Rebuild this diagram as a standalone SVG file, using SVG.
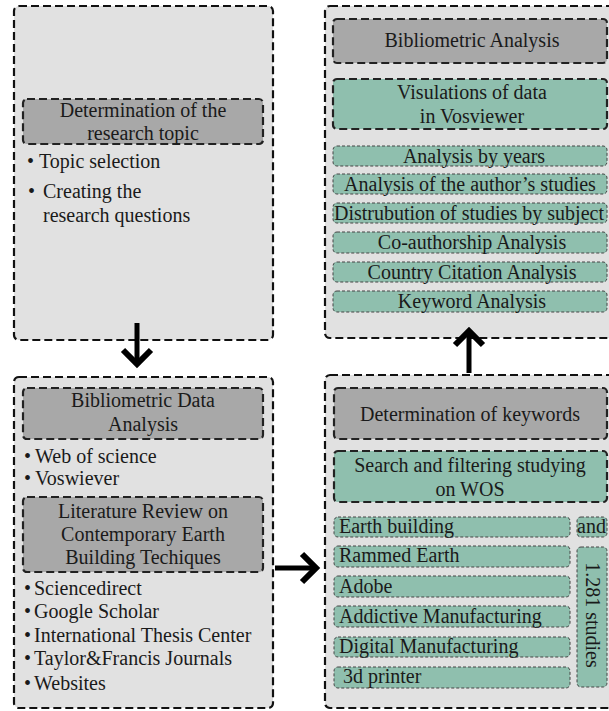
<svg xmlns="http://www.w3.org/2000/svg" width="609" height="711" viewBox="0 0 609 711">
<style>
.panel{fill:#e1e1e1;stroke:#111;stroke-width:2.2;stroke-dasharray:8 4}
.dark{fill:#a8a8a8;stroke:#222;stroke-width:2.2;stroke-dasharray:8 4}
.tealB{fill:#8fbfae;stroke:#222;stroke-width:2.2;stroke-dasharray:8 4}
.teal{fill:#8fbfae;stroke:#444;stroke-width:1;stroke-dasharray:3 2}
text{font-family:"Liberation Serif","Times New Roman",serif;font-size:20px;fill:#1a1a1a}
.c{text-anchor:middle}
.b{font-size:20px}
.arr{stroke:#000;stroke-width:5;fill:none}
.head{stroke:#000;stroke-width:6;fill:none;stroke-linejoin:miter}
</style>
<rect width="609" height="711" fill="#fff"/>

<g id="panel-topic">
<rect class="panel" x="14" y="6" width="259" height="334" rx="5"/>
<rect class="dark" x="23" y="99" width="240" height="45" rx="4"/>
<text class="c" x="143" y="117">Determination of the</text>
<text class="c" x="143" y="140">research topic</text>
<text class="b" x="27" y="168">•</text><text x="39" y="168">Topic selection</text>
<text class="b" x="28" y="198">•</text><text x="43" y="198">Creating the</text>
<text x="43" y="222">research questions</text>
</g>

<g id="panel-data">
<rect class="panel" x="14" y="377" width="259" height="331" rx="5"/>
<rect class="dark" x="23" y="388" width="240" height="51" rx="4"/>
<text class="c" x="143" y="407">Bibliometric Data</text>
<text class="c" x="143" y="431">Analysis</text>
<text class="b" x="24" y="463">•</text><text x="35" y="463">Web of science</text>
<text class="b" x="24" y="485">•</text><text x="35" y="485">Voswiever</text>
<rect class="dark" x="23" y="497" width="240" height="75" rx="4"/>
<text class="c" x="143" y="518">Literature Review on</text>
<text class="c" x="143" y="541">Contemporary Earth</text>
<text class="c" x="143" y="564">Building Techiques</text>
<text class="b" x="24" y="595">•</text><text x="34" y="595">Sciencedirect</text>
<text class="b" x="24" y="618">•</text><text x="34" y="618">Google Scholar</text>
<text class="b" x="24" y="642">•</text><text x="34" y="642">International Thesis Center</text>
<text class="b" x="24" y="665">•</text><text x="34" y="665">Taylor&amp;Francis Journals</text>
<text class="b" x="24" y="690">•</text><text x="34" y="690">Websites</text>
</g>

<g id="panel-keywords">
<rect class="panel" x="325" y="375" width="292" height="333" rx="5"/>
<rect class="dark" x="334" y="388" width="273" height="51" rx="4"/>
<text class="c" x="470" y="421">Determination of keywords</text>
<rect class="tealB" x="334" y="451" width="273" height="51" rx="4"/>
<text class="c" x="470" y="472">Search and filtering studying</text>
<text class="c" x="470" y="496">on WOS</text>
<rect class="teal" x="334" y="517" width="236" height="20" rx="4"/>
<text x="339" y="533">Earth building</text>
<rect class="teal" x="334" y="546" width="236" height="21" rx="4"/>
<text x="339" y="562">Rammed Earth</text>
<rect class="teal" x="334" y="576" width="236" height="21" rx="4"/>
<text x="339" y="593">Adobe</text>
<rect class="teal" x="334" y="606" width="236" height="21" rx="4"/>
<text x="339" y="623">Addictive Manufacturing</text>
<rect class="teal" x="334" y="637" width="236" height="20" rx="4"/>
<text x="339" y="653">Digital Manufacturing</text>
<rect class="teal" x="334" y="667" width="236" height="21" rx="4"/>
<text x="343" y="683">3d printer</text>
<rect class="teal" x="577" y="517" width="30" height="20" rx="4"/>
<text x="577" y="533">and</text>
<rect class="teal" x="577" y="547" width="30" height="140" rx="4"/>
<text class="c" transform="translate(586 615) rotate(90)" x="0" y="0">1.281 studies</text>
</g>

<g id="panel-analysis">
<rect class="panel" x="325" y="6" width="292" height="332" rx="5"/>
<rect class="dark" x="333" y="19" width="274" height="44" rx="4"/>
<text class="c" x="472" y="47">Bibliometric Analysis</text>
<rect class="tealB" x="333" y="79" width="274" height="50" rx="4"/>
<text class="c" x="472" y="99">Visulations of data</text>
<text class="c" x="472" y="123">in Vosviewer</text>
<rect class="teal" x="333" y="146" width="274" height="20" rx="4"/>
<text class="c" x="474" y="163">Analysis by years</text>
<rect class="teal" x="333" y="174" width="274" height="20" rx="4"/>
<text class="c" x="470" y="191">Analysis of the author’s studies</text>
<rect class="teal" x="333" y="203" width="274" height="20" rx="4"/>
<text x="334" y="220">Distrubution of studies by subject</text>
<rect class="teal" x="333" y="232" width="274" height="21" rx="4"/>
<text class="c" x="472" y="249">Co-authorship Analysis</text>
<rect class="teal" x="333" y="262" width="274" height="20" rx="4"/>
<text class="c" x="472" y="279">Country Citation Analysis</text>
<rect class="teal" x="333" y="291" width="274" height="21" rx="4"/>
<text class="c" x="472" y="308">Keyword Analysis</text>
</g>

<g id="connectors">
<line class="arr" x1="137" y1="323" x2="137" y2="362"/>
<polyline class="head" points="123,350 137,364 151,350"/>
<line class="arr" x1="275" y1="568" x2="314" y2="568"/>
<polyline class="head" points="302,554 316,568 302,582"/>
<line class="arr" x1="469" y1="373" x2="469" y2="333"/>
<polyline class="head" points="455,345 469,331 483,345"/>
</g>
</svg>
